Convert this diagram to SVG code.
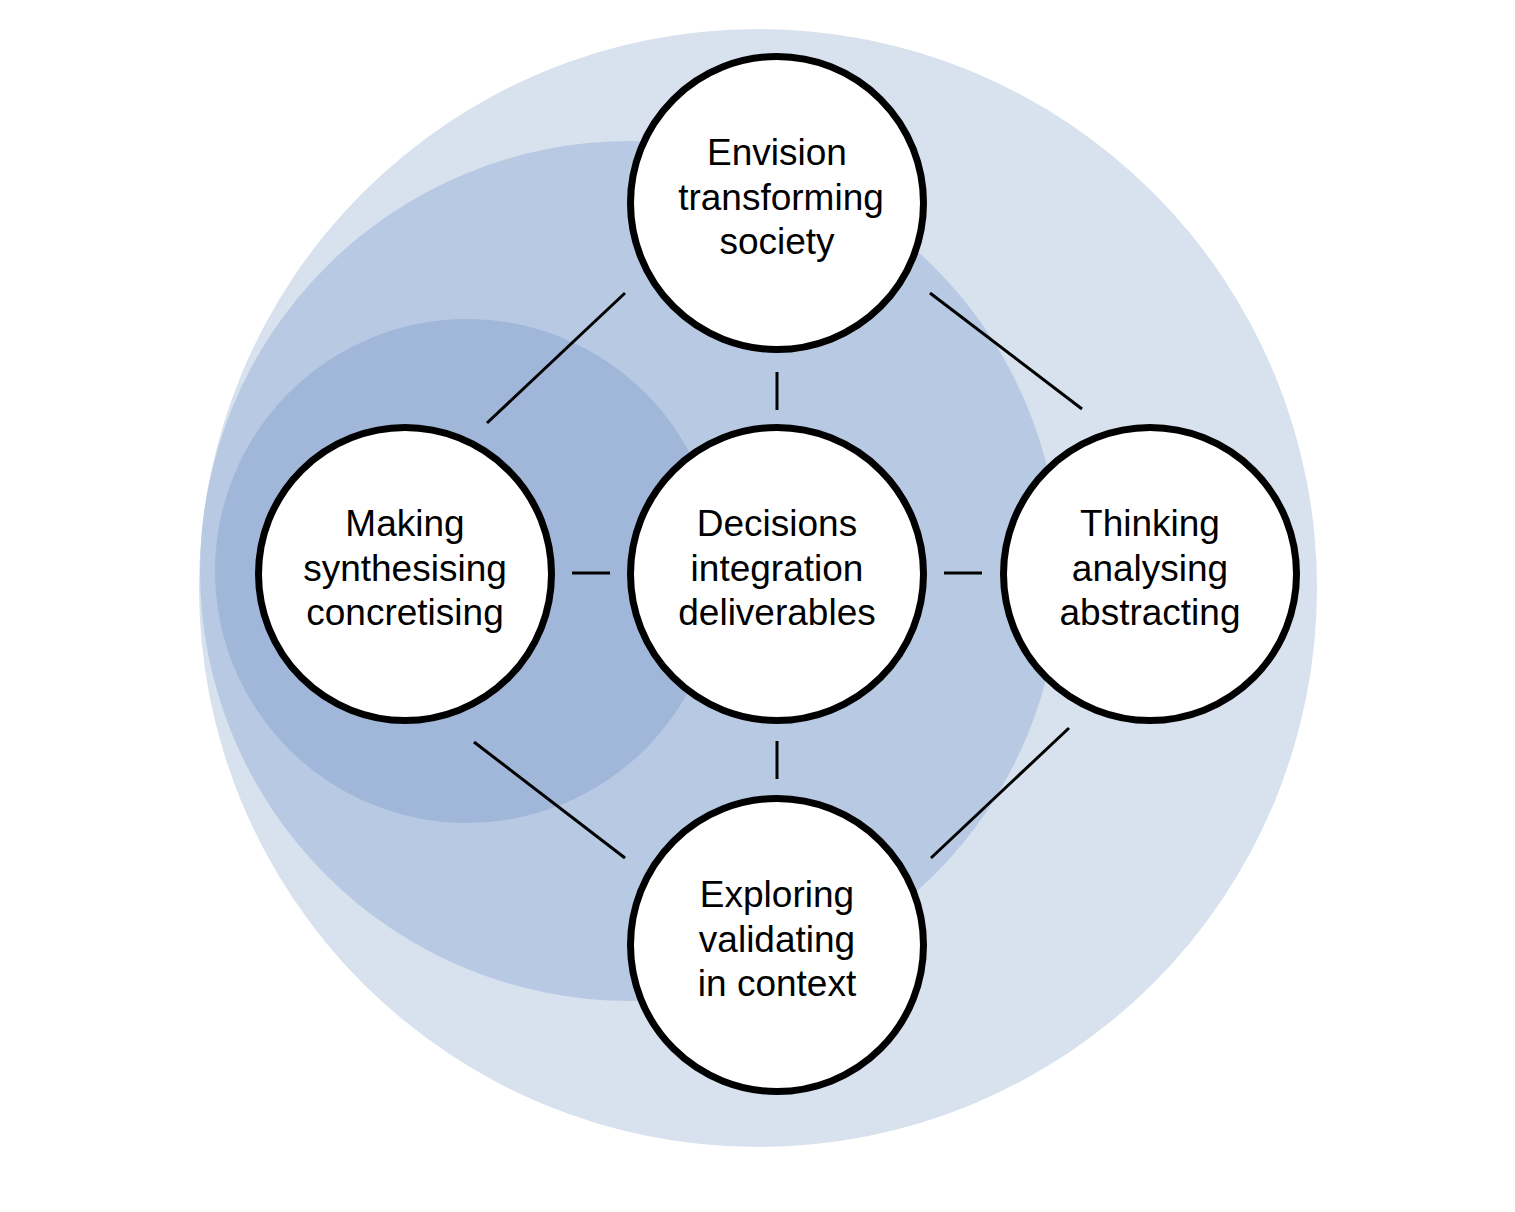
<svg xmlns="http://www.w3.org/2000/svg" width="1515" height="1212" viewBox="0 0 1515 1212">
<style>
.node{fill:#ffffff;stroke:#000000;stroke-width:7}
.lbl{font-family:"Liberation Sans",Arial,Helvetica,sans-serif;font-size:37px;fill:#000000;text-anchor:middle}
.conn line{stroke:#000000;stroke-width:3}
</style>
<rect width="1515" height="1212" fill="#ffffff"/>
<g id="background">
<circle cx="758" cy="588" r="559" fill="#d8e1ee"/>
<circle cx="630" cy="571" r="430" fill="#b8cae3"/>
<circle cx="467" cy="571" r="252" fill="#a1b7da"/>
</g>
<g id="connectors" class="conn">
<line x1="625" y1="293" x2="487" y2="423"/>
<line x1="930" y1="293" x2="1082" y2="409"/>
<line x1="777" y1="372" x2="777" y2="410"/>
<line x1="572" y1="573" x2="610" y2="573"/>
<line x1="944" y1="573" x2="982" y2="573"/>
<line x1="777" y1="741" x2="777" y2="779"/>
<line x1="474" y1="742" x2="625" y2="858"/>
<line x1="1069" y1="728" x2="931" y2="858"/>
</g>
<g id="node-envision">
<circle class="node" cx="777" cy="203" r="146.5"/>
<text class="lbl" x="777" y="165">Envision</text>
<text class="lbl" x="781" y="210">transforming</text>
<text class="lbl" x="777" y="254">society</text>
</g>
<g id="node-decisions">
<circle class="node" cx="777" cy="574" r="146.5"/>
<text class="lbl" x="777" y="536">Decisions</text>
<text class="lbl" x="777" y="581">integration</text>
<text class="lbl" x="777" y="625">deliverables</text>
</g>
<g id="node-making">
<circle class="node" cx="405" cy="574" r="146.5"/>
<text class="lbl" x="405" y="536">Making</text>
<text class="lbl" x="405" y="581">synthesising</text>
<text class="lbl" x="405" y="625">concretising</text>
</g>
<g id="node-thinking">
<circle class="node" cx="1150" cy="574" r="146.5"/>
<text class="lbl" x="1150" y="536">Thinking</text>
<text class="lbl" x="1150" y="581">analysing</text>
<text class="lbl" x="1150" y="625">abstracting</text>
</g>
<g id="node-exploring">
<circle class="node" cx="777" cy="945" r="146.5"/>
<text class="lbl" x="777" y="907">Exploring</text>
<text class="lbl" x="777" y="952">validating</text>
<text class="lbl" x="777" y="996">in context</text>
</g>
</svg>
